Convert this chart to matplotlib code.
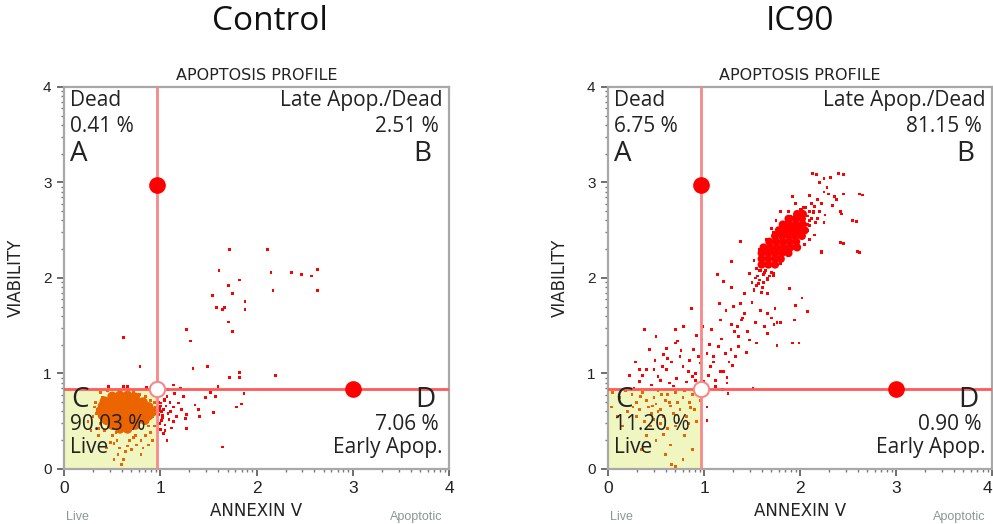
import numpy as np
import matplotlib as mpl
mpl.use('Agg')
import matplotlib.pyplot as plt
from matplotlib.patches import Rectangle

# quadrant gate (annexin, viability)
gate_x = 0.97
gate_y = 0.84

titles = ["Control", "IC90"]
pct_A = ["0.41 %", "6.75 %"]
pct_B = ["2.51 %", "81.15 %"]
pct_C = ["90.03 %", "11.20 %"]
pct_D = ["7.06 %", "0.90 %"]

# Control: dense core of the live population (drawn with larger marks)
ctrl_core_x = [0.50, 0.58, 0.66, 0.74,
               0.42, 0.50, 0.58, 0.66, 0.74, 0.82,
               0.40, 0.48, 0.56, 0.64, 0.72, 0.80, 0.88,
               0.38, 0.46, 0.54, 0.62, 0.70, 0.78, 0.86, 0.92,
               0.40, 0.48, 0.56, 0.64, 0.72, 0.80, 0.88,
               0.44, 0.52, 0.60, 0.68, 0.76, 0.84,
               0.50, 0.58, 0.66, 0.74,
               0.58, 0.66]
ctrl_core_y = [0.76, 0.77, 0.77, 0.75,
               0.71, 0.71, 0.71, 0.71, 0.71, 0.70,
               0.66, 0.66, 0.66, 0.66, 0.66, 0.66, 0.65,
               0.61, 0.61, 0.61, 0.61, 0.61, 0.61, 0.61, 0.60,
               0.56, 0.56, 0.56, 0.56, 0.56, 0.56, 0.56,
               0.51, 0.51, 0.51, 0.51, 0.51, 0.51,
               0.46, 0.46, 0.46, 0.46,
               0.42, 0.42]
# Control: single events
ctrl_x = [0.30, 0.35, 0.38, 0.40, 0.33, 0.42, 0.45, 0.50, 0.55, 0.48, 0.58, 0.62, 0.66, 0.72,
          0.78, 0.85, 0.90, 0.92, 0.94, 0.90, 0.85, 0.80, 0.75, 0.70, 0.64, 0.58, 0.52, 0.60,
          0.80, 0.88, 0.25, 0.28, 0.36, 0.44, 0.95, 0.93, 0.38, 0.68, 0.74, 0.56, 0.46, 0.86,
          0.62, 0.40, 0.34, 0.92, 0.82, 0.66, 0.32, 0.36, 0.54, 0.72, 0.88, 0.94, 0.52, 0.46,
          1.72, 2.11, 1.61, 2.15, 2.36, 2.47, 2.57, 2.63, 2.63, 2.17, 1.82, 1.71, 1.75, 1.54,
          1.58, 1.65, 1.67, 1.88, 1.88, 1.71, 1.75, 1.27, 1.31, 0.62, 1.34, 1.49, 0.79, 1.72,
          1.82, 1.82, 2.20, 1.60, 1.52, 1.47, 1.57, 1.87, 1.84, 1.79, 1.55, 1.40, 1.41, 1.36,
          1.26, 1.27, 1.65, 1.14, 1.21,
          1.07, 1.10, 1.14, 1.03, 1.08, 1.17, 1.01, 1.05, 1.12, 1.07, 1.00, 0.98, 1.22, 1.19,
          1.24, 1.14, 1.00, 1.03, 0.99, 1.15, 1.08, 1.27, 1.00, 0.99, 1.02, 1.04, 1.06, 1.01,
          1.11, 1.09, 1.05, 0.99, 1.00, 1.02, 1.04, 0.98]
ctrl_y = [0.55, 0.62, 0.48, 0.75, 0.70, 0.40, 0.82, 0.35, 0.30, 0.28, 0.82, 0.86, 0.86, 0.80,
          0.78, 0.76, 0.72, 0.55, 0.45, 0.38, 0.35, 0.30, 0.25, 0.20, 0.18, 0.22, 0.10, 0.05,
          0.15, 0.25, 0.50, 0.40, 0.35, 0.22, 0.65, 0.80, 0.80, 0.30, 0.35, 0.15, 0.86, 0.85,
          0.10, 0.55, 0.58, 0.30, 0.22, 0.24, 0.65, 0.42, 0.38, 0.33, 0.45, 0.70, 0.27, 0.44,
          2.30, 2.30, 2.08, 2.06, 2.06, 2.04, 2.02, 2.09, 1.87, 1.87, 1.98, 1.92, 1.84, 1.82,
          1.69, 1.67, 1.69, 1.75, 1.67, 1.54, 1.44, 1.46, 1.34, 1.38, 1.05, 1.07, 1.07, 0.96,
          1.01, 0.96, 0.98, 0.86, 0.80, 0.75, 0.76, 0.79, 0.68, 0.65, 0.59, 0.62, 0.55, 0.67,
          0.53, 0.42, 0.23, 0.88, 0.84,
          0.76, 0.70, 0.65, 0.62, 0.58, 0.55, 0.51, 0.46, 0.43, 0.30, 0.69, 0.57, 0.62, 0.69,
          0.76, 0.50, 0.41, 0.37, 0.48, 0.79, 0.83, 0.57, 0.79, 0.64, 0.54, 0.72, 0.66, 0.60,
          0.60, 0.52, 0.40, 0.61, 0.66, 0.56, 0.73, 0.70]

# IC90: dense core of the late apoptotic population
ic_core_x = [1.60, 1.67, 1.74,
             1.60, 1.67, 1.74, 1.80,
             1.60, 1.67, 1.74, 1.81, 1.88,
             1.62, 1.69, 1.76, 1.83, 1.90, 1.97,
             1.68, 1.75, 1.82, 1.89, 1.96,
             1.74, 1.81, 1.88, 1.95, 2.02,
             1.78, 1.85, 1.92, 1.99, 2.05,
             1.82, 1.89, 1.96, 2.03,
             1.88, 1.95, 2.02,
             1.97, 2.03]
ic_core_y = [2.14, 2.14, 2.14,
             2.20, 2.20, 2.20, 2.20,
             2.26, 2.26, 2.26, 2.26, 2.26,
             2.32, 2.32, 2.32, 2.32, 2.32, 2.32,
             2.38, 2.38, 2.38, 2.38, 2.38,
             2.44, 2.44, 2.44, 2.44, 2.44,
             2.50, 2.50, 2.50, 2.50, 2.50,
             2.56, 2.56, 2.56, 2.56,
             2.62, 2.62, 2.62,
             2.67, 2.67]
# IC90: single events
ic_x = [1.55, 1.58, 1.62, 1.68, 1.55, 1.52, 1.60, 1.50, 1.72, 1.80, 1.90, 1.95, 2.02, 2.05,
        2.08, 2.10, 2.02, 1.95, 1.88, 1.92, 2.12, 2.15, 2.18, 2.22, 2.25, 2.28, 2.20, 2.32,
        2.13, 2.40, 2.30, 2.38, 2.45, 2.62, 2.42, 2.55, 2.60, 2.42, 2.25, 2.15, 2.22, 2.05,
        1.75, 1.70, 1.65, 1.58, 1.52, 1.48, 1.80, 1.72, 2.08, 2.10, 2.00, 2.18, 1.95, 1.85,
        1.78, 1.56, 1.59, 1.63, 1.66, 1.53, 1.57, 1.61, 2.06, 2.10, 2.14, 2.04, 2.12, 2.16,
        1.98, 2.00, 2.08, 1.86, 1.90, 1.82, 1.74, 1.68, 1.96, 2.20, 2.26, 2.34, 2.10,
        1.62, 1.66, 1.70, 1.64, 1.58, 1.72, 1.54, 2.10, 2.14, 2.06,
        2.45, 2.17, 2.25, 2.65, 2.59, 2.62, 2.45, 2.43, 2.36, 2.22, 1.89, 2.02, 2.08, 1.95,
        1.92, 1.99, 1.76, 1.73, 1.76, 1.74, 1.70, 1.63, 1.54, 1.66, 1.52, 1.47, 1.38, 1.29,
        1.14, 1.20, 1.29, 1.16, 1.23, 1.38, 1.42, 1.39, 1.29, 1.35, 1.45, 1.47, 1.36, 1.28,
        1.26, 1.17, 1.10, 1.03, 1.08, 0.99, 0.92, 0.87, 0.79, 0.70, 0.70, 0.61, 0.50, 0.38,
        0.43, 0.29, 0.40, 0.22, 0.33, 0.52, 0.61, 0.78, 0.85, 0.91, 0.96, 1.05, 1.12, 1.24,
        1.19, 1.25, 1.51, 1.03, 1.03, 0.89, 0.75, 0.66, 0.57, 0.49, 0.33, 0.71, 0.82, 0.64,
        0.45, 0.27, 0.91, 1.07, 1.22, 1.33, 1.15, 1.17, 1.36, 1.55, 1.66, 1.80, 1.94, 1.59,
        1.66, 1.42, 1.31, 0.55, 0.68, 0.84, 0.94, 1.00, 1.12, 1.20, 1.30, 1.44, 0.36, 0.48,
        0.62, 0.76, 0.88, 1.06, 1.18, 1.32, 1.40, 1.50, 0.58, 0.72, 0.98, 1.10, 1.24,
        0.05, 0.12, 0.18, 0.25, 0.30, 0.33, 0.36, 0.40, 0.42, 0.45, 0.48, 0.50, 0.52, 0.55,
        0.58, 0.60, 0.62, 0.65, 0.68, 0.70, 0.72, 0.75, 0.78, 0.80, 0.82, 0.85, 0.88, 0.90,
        0.92, 0.38, 0.44, 0.55, 0.62, 0.70, 0.40, 0.50, 0.65, 0.80, 0.88, 0.60, 0.66, 0.70,
        0.30, 0.26, 0.20, 0.10, 0.04, 0.15, 0.35, 0.78, 0.58, 0.48, 0.84, 0.74, 0.94, 0.96,
        0.46, 0.52, 0.64, 0.86, 0.34, 0.56]
ic_y = [2.10, 1.98, 1.95, 2.02, 1.92, 1.88, 1.85, 1.95, 2.05, 2.15, 2.30, 2.35, 2.45, 2.55,
        2.65, 2.70, 2.72, 2.78, 2.70, 2.85, 2.62, 2.75, 2.82, 2.78, 2.90, 2.95, 3.00, 3.05,
        3.09, 3.09, 2.88, 2.82, 2.88, 2.88, 2.70, 2.60, 2.28, 2.37, 2.58, 2.45, 2.28, 2.35,
        2.60, 2.52, 2.40, 2.30, 2.18, 2.05, 2.70, 2.48, 2.50, 2.40, 2.72, 2.62, 2.40, 2.25,
        2.20, 2.02, 2.08, 2.06, 1.98, 2.00, 1.94, 1.90, 2.66, 2.60, 2.68, 2.74, 2.78, 2.58,
        2.66, 2.46, 2.56, 2.60, 2.64, 2.52, 2.42, 2.12, 2.32, 2.70, 2.66, 2.76, 2.86,
        2.04, 2.00, 2.06, 2.08, 2.08, 2.02, 2.00, 2.55, 2.70, 2.74,
        3.08, 3.08, 3.04, 2.87, 2.59, 2.27, 2.36, 2.67, 2.85, 2.27, 1.89, 1.79, 1.65, 1.71,
        1.32, 1.32, 1.29, 1.51, 1.53, 1.68, 1.58, 1.49, 1.53, 1.63, 1.87, 2.05, 2.38, 2.17,
        2.04, 1.96, 1.90, 1.73, 1.66, 1.73, 1.84, 1.56, 1.51, 1.49, 1.44, 1.35, 1.28, 1.25,
        1.12, 1.02, 1.12, 1.21, 1.46, 1.49, 1.40, 1.68, 1.49, 1.46, 1.32, 1.26, 1.39, 1.46,
        1.25, 1.12, 1.04, 0.98, 0.92, 0.97, 1.04, 1.07, 1.14, 1.00, 1.11, 0.98, 0.93, 0.90,
        0.83, 0.79, 0.84, 0.51, 0.65, 1.25, 1.18, 1.12, 1.07, 1.14, 1.04, 0.95, 0.91, 0.90,
        0.88, 0.84, 0.93, 1.07, 1.21, 1.18, 1.28, 1.56, 1.39, 1.32, 1.42, 1.53, 1.56, 1.66,
        1.84, 1.63, 1.70, 0.93, 0.87, 1.02, 1.18, 0.92, 0.86, 1.02, 1.08, 1.22, 0.98, 1.04,
        1.16, 1.24, 0.97, 1.30, 1.36, 1.44, 1.58, 1.74, 1.20, 1.34, 1.36, 1.18, 0.96,
        0.80, 0.75, 0.82, 0.78, 0.70, 0.62, 0.80, 0.72, 0.65, 0.58, 0.75, 0.68, 0.82, 0.62,
        0.55, 0.72, 0.78, 0.66, 0.58, 0.80, 0.70, 0.62, 0.75, 0.82, 0.55, 0.70, 0.78, 0.62,
        0.50, 0.50, 0.45, 0.48, 0.42, 0.45, 0.35, 0.30, 0.25, 0.35, 0.20, 0.15, 0.05, 0.03,
        0.55, 0.65, 0.60, 0.55, 0.65, 0.45, 0.20, 0.10, 0.36, 0.52, 0.48, 0.52, 0.82, 0.72,
        0.66, 0.60, 0.70, 0.64, 0.76, 0.78]

LIVE_COL = "#ec6400"
APOP_COL = "#ff0000"
VLINE_COL = "#f78888"
HLINE_COL = "#ff5a5a"
SPINE_COL = "#a8a8a8"
TXT = "#222222"
QFONT = "Open Sans"
AFONT = "Liberation Sans"
LFONT = "DejaVu Sans"


def point_colors(x, y):
	x = np.asarray(x)
	y = np.asarray(y)
	live = (x < gate_x) & (y < gate_y)
	return np.where(live, LIVE_COL, APOP_COL)


def draw_panel(ax, i, core_x, core_y, xs, ys, core_size):
	ax.set_xlim(0, 4)
	ax.set_ylim(0, 4)

	# live quadrant shading
	ax.add_patch(Rectangle((0, 0), gate_x, gate_y, facecolor="#f0f6c0", edgecolor="none", zorder=0))

	ax.scatter(core_x, core_y, s=core_size, c=point_colors(core_x, core_y), marker="o", linewidths=0, zorder=2)
	ax.scatter(xs, ys, s=4, c=point_colors(xs, ys), marker="s", linewidths=0, zorder=2)

	# gate lines and handles
	ax.axvline(gate_x, color=VLINE_COL, lw=2, zorder=3)
	ax.axhline(gate_y, color=HLINE_COL, lw=2, zorder=3)
	ax.plot([gate_x], [2.97], "o", color="#ff0000", ms=11, mec="#ff0000", zorder=4)
	ax.plot([3.0], [gate_y], "o", color="#ff0000", ms=11, mec="#ff0000", zorder=4)
	ax.plot([gate_x], [gate_y], "o", color="white", ms=11, mec=VLINE_COL, mew=1.5, zorder=4)

	# quadrant annotations
	kw = dict(family=QFONT, color=TXT, va="top")
	ax.text(0.06, 3.97, "Dead", fontsize=15, **kw)
	ax.text(0.06, 3.70, pct_A[i], fontsize=15, **kw)
	ax.text(0.06, 3.45, "A", fontsize=20, **kw)
	ax.text(3.93, 3.97, "Late Apop./Dead", fontsize=15, ha="right", **kw)
	ax.text(3.89, 3.70, pct_B[i], fontsize=15, ha="right", **kw)
	ax.text(3.82, 3.45, "B", fontsize=20, ha="right", **kw)
	ax.text(0.08, 0.87, "C", fontsize=20, **kw)
	ax.text(0.06, 0.58, pct_C[i], fontsize=15, **kw)
	ax.text(0.06, 0.33, "Live", fontsize=15, **kw)
	ax.text(3.86, 0.87, "D", fontsize=20, ha="right", **kw)
	ax.text(3.89, 0.58, pct_D[i], fontsize=15, ha="right", **kw)
	ax.text(3.93, 0.33, "Early Apop.", fontsize=15, ha="right", **kw)

	# axes styling
	for sp in ax.spines.values():
		sp.set_color(SPINE_COL)
		sp.set_linewidth(1.6)
	ax.set_xticks(range(5))
	ax.set_yticks(range(5))
	minor = [d + np.log10(k) for d in range(4) for k in range(2, 10)]
	ax.set_xticks(minor, minor=True)
	ax.set_yticks(minor, minor=True)
	ax.tick_params(which="major", length=5, width=1.2, color="#555555", pad=4)
	ax.tick_params(which="minor", length=2.5, width=1, color="#777777")
	ax.tick_params(axis="x", labelsize=12.5, labelcolor=TXT)
	ax.tick_params(axis="y", labelsize=11, labelcolor=TXT)
	for lab in ax.get_xticklabels() + ax.get_yticklabels():
		lab.set_family(AFONT)

	ax.set_title("APOPTOSIS PROFILE", family=LFONT, fontsize=11.5, color=TXT, pad=5)
	ax.set_xlabel("ANNEXIN V", family=LFONT, fontsize=12, color=TXT, labelpad=4)
	ax.set_ylabel("VIABILITY", family=LFONT, fontsize=12, color=TXT, labelpad=13)
	ax.text(0.035, -0.125, "Live", transform=ax.transAxes, family=AFONT, fontsize=9,
			color="#8a9894", ha="center", va="center")
	ax.text(0.915, -0.125, "Apoptotic", transform=ax.transAxes, family=AFONT, fontsize=9,
			color="#8a9894", ha="center", va="center")


if __name__ == "__main__":
	fig = plt.figure(figsize=(9.93, 5.24), dpi=100)
	ax1 = fig.add_axes([0.0645, 0.105, 0.3877, 0.729])
	ax2 = fig.add_axes([0.6123, 0.105, 0.3867, 0.729])

	draw_panel(ax1, 0, ctrl_core_x, ctrl_core_y, ctrl_x, ctrl_y, 48)
	draw_panel(ax2, 1, ic_core_x, ic_core_y, ic_x, ic_y, 34)

	# last tick label on the right panel sits on the figure edge
	ax2.get_xticklabels()[-1].set_horizontalalignment("right")

	fig.text(270 / 993, 1 - 21 / 524, titles[0], family=QFONT, fontsize=24, ha="center", va="center", color="#111111")
	fig.text(800 / 993, 1 - 21 / 524, titles[1], family=QFONT, fontsize=24, ha="center", va="center", color="#111111")

	fig.savefig("out.png", dpi=100)
